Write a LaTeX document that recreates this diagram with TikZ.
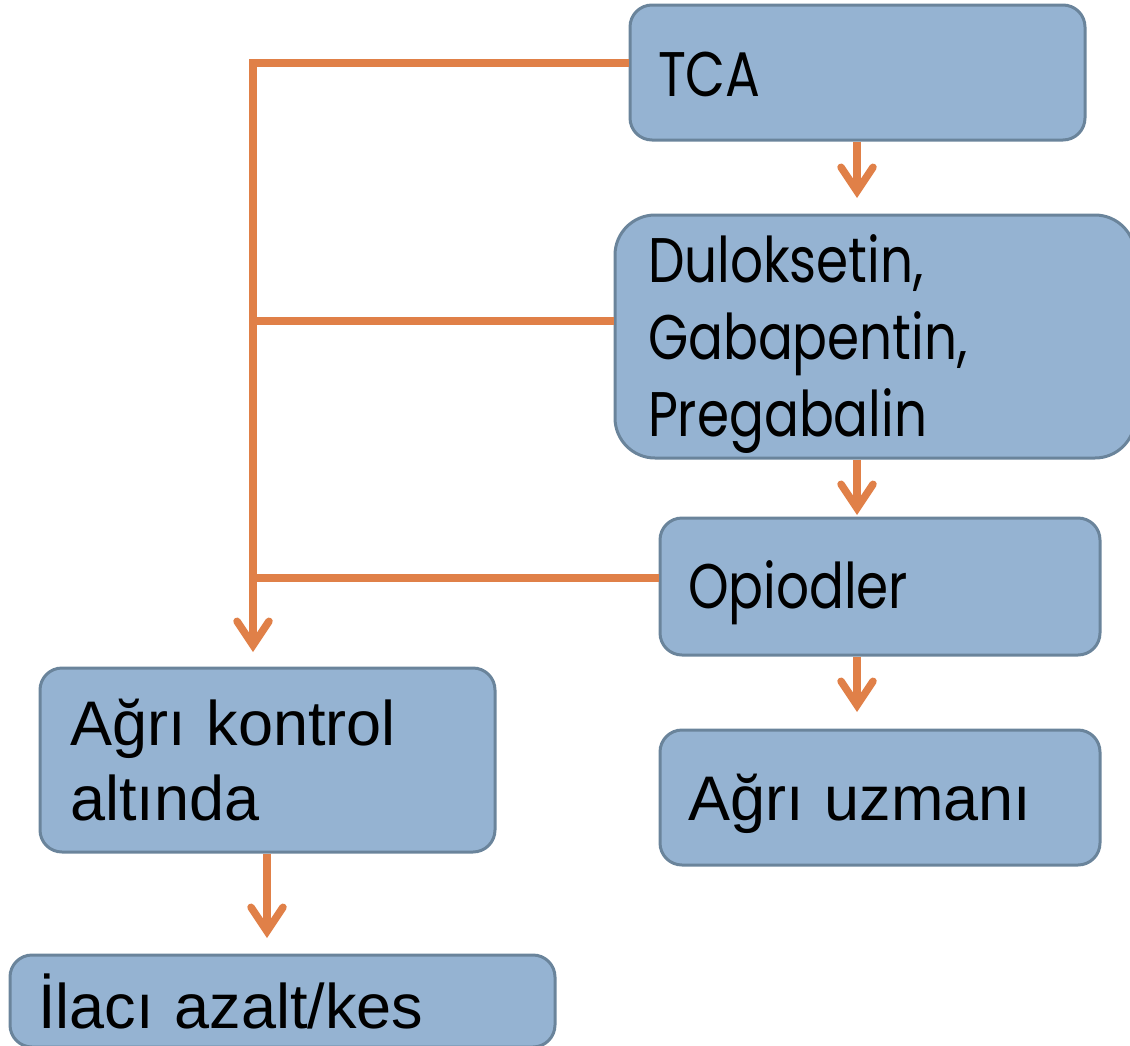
\documentclass[tikz,border=0pt]{standalone}
\usepackage{fontspec}
\setmainfont{Liberation Sans}
\newfontfamily\geo[FakeStretch=0.82]{Poppins}
\usetikzlibrary{arrows.meta}
\definecolor{boxfill}{RGB}{149,179,210}
\definecolor{boxline}{RGB}{106,132,155}
\definecolor{conn}{RGB}{224,128,72}
\newcommand{\shiftdown}[2]{\raisebox{-#1}[\height][\depth]{#2}}
\tikzset{
  box/.style={draw=boxline, line width=3pt, fill=boxfill, rounded corners=22pt,
    align=left, inner ysep=0pt, anchor=center},
  cline/.style={draw=conn, line width=7.5pt, line join=miter},
  arr/.style={cline, -{Straight Barb[length=24pt, width=32pt, line cap=round, line join=miter]}},
  geotext/.style={font=\geo\fontsize{63}{77}\selectfont},
  ariatext/.style={font=\fontsize{63}{75}\selectfont}
}
\begin{document}
\begin{tikzpicture}[x=1pt,y=-1pt]
\useasboundingbox (0,0) rectangle (1130,1045);
\node[box, geotext, minimum width=455pt, minimum height=135pt, text width=399pt, inner xsep=28pt] (tca) at (857.5,72.5) {\shiftdown{2pt}{TCA}};
\node[box, geotext, rounded corners=40pt, minimum width=520pt, minimum height=243pt, text width=454pt, inner xsep=33pt] (dul) at (875,336.5) {\shiftdown{8pt}{\begin{tabular}{@{}l@{}}Duloksetin,\\Gabapentin,\\Pregabalin\end{tabular}}};
\node[box, geotext, minimum width=440pt, minimum height=137pt, text width=384pt, inner xsep=28pt] (opi) at (880,586.5) {\shiftdown{6pt}{Opiodler}};
\node[box, ariatext, minimum width=440pt, minimum height=135pt, text width=384pt, inner xsep=28pt] (uzm) at (880,797.5) {\shiftdown{6pt}{Ağrı uzmanı}};
\node[box, ariatext, minimum width=455pt, minimum height=184pt, text width=395pt, inner xsep=30pt] (kon) at (267.5,760) {Ağrı kontrol\\altında};
\node[box, ariatext, minimum width=545pt, minimum height=92pt, text width=489pt, inner xsep=28pt] (ila) at (282.5,1001) {İlacı azalt/kes};
\coordinate (j1) at (253,63);
\coordinate (j2) at (253,321);
\coordinate (j3) at (253,578);
\coordinate (j4) at (253,652);
\coordinate (t1) at (857,198);
\coordinate (t2) at (857,515);
\coordinate (t3) at (857,712);
\coordinate (t4) at (267,938);
\draw[arr] (tca.west |- j1) -- (j1) -- (j4);
\draw[cline] (dul.west |- j2) -- (j2);
\draw[cline] (opi.west |- j3) -- (j3);
\draw[arr] (t1 |- tca.south) -- (t1);
\draw[arr] (t2 |- dul.south) -- (t2);
\draw[arr] (t3 |- opi.south) -- (t3);
\draw[arr] (t4 |- kon.south) -- (t4);
\end{tikzpicture}
\end{document}
